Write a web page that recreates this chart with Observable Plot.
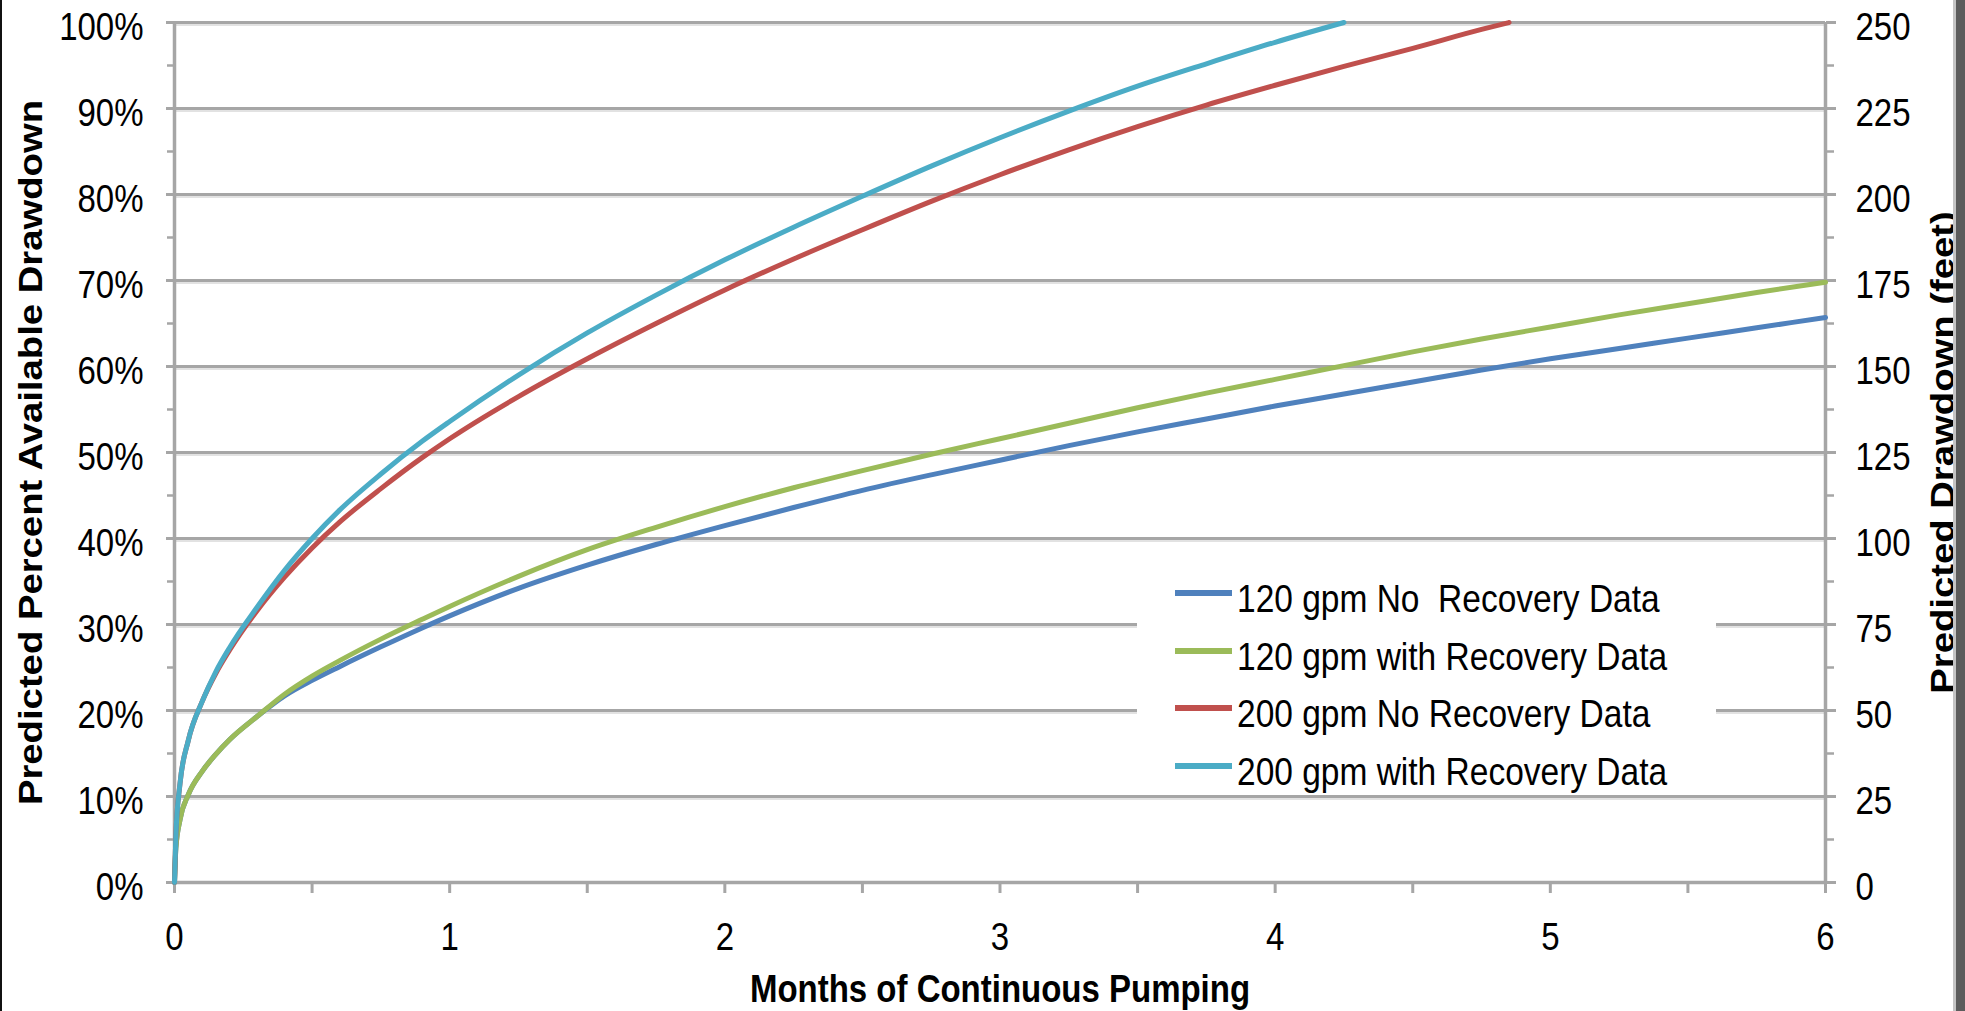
<!DOCTYPE html>
<html><head><meta charset="utf-8">
<script src="https://cdn.jsdelivr.net/npm/d3@7"></script>
<script src="https://cdn.jsdelivr.net/npm/@observablehq/plot@0.6"></script>
<style>
html,body{margin:0;padding:0;background:#fff;}
#wrap{position:relative;width:1965px;height:1011px;overflow:hidden;background:#fff;font-family:'Liberation Sans',Arial,sans-serif;}
#legend{position:absolute;left:1137px;top:548px;width:579px;height:244px;background:#fff;}
.row{position:absolute;left:0;width:579px;height:0;}
.sw{position:absolute;left:38px;width:57px;height:6px;top:-3px;}
.lab{position:absolute;left:100px;top:-11px;height:33px;line-height:33px;font-size:33.5px;white-space:pre;color:#000;transform:scaleY(1.16);transform-origin:0 50%;}
.edgeL{position:absolute;left:0;top:0;width:2px;height:1011px;background:#111;}
.edgeR{position:absolute;left:1953px;top:0;width:12px;height:1011px;background:#5c5c5c;border-left:3px solid #c4c4c4;box-sizing:border-box;}
</style></head>
<body>
<div id="wrap"></div>
<script>
// ---- data ----
const months = [0, 0.005, 0.02, 0.05, 0.1, 0.15, 0.2, 0.3, 0.4, 0.5, 0.6, 0.75, 0.9, 1.0, 1.25, 1.5, 1.75, 2.0, 2.25, 2.5, 2.75, 3.0, 3.25, 3.5, 3.75, 4.0, 4.25, 4.5, 4.75, 5.0, 5.25, 5.5, 5.75, 6.0];
const monthsRed200 = [0, 0.005, 0.02, 0.05, 0.1, 0.15, 0.2, 0.3, 0.4, 0.5, 0.6, 0.75, 0.9, 1.0, 1.25, 1.5, 1.75, 2.0, 2.25, 2.5, 2.75, 3.0, 3.25, 3.5, 3.75, 4.0, 4.25, 4.5, 4.75, 4.85];
const noRec120 = [0, 4, 7.3, 10.2, 12.9, 14.9, 16.6, 19.3, 21.7, 23.5, 25.1, 27.4, 29.6, 31.0, 34.2, 36.9, 39.3, 41.5, 43.6, 45.6, 47.4, 49.1, 50.8, 52.4, 53.9, 55.4, 56.8, 58.2, 59.6, 60.9, 62.1, 63.3, 64.5, 65.7];
const withRec120 = [0, 4, 7.3, 10.2, 12.9, 14.9, 16.6, 19.3, 21.9, 24.0, 25.8, 28.3, 30.6, 32.1, 35.6, 38.7, 41.3, 43.7, 45.9, 47.9, 49.8, 51.6, 53.4, 55.2, 56.9, 58.5, 60.1, 61.7, 63.2, 64.6, 66.0, 67.3, 68.6, 69.8];
const noRec200 = [0, 5.5, 11.5, 16.5, 21, 24.3, 27.0, 31.6, 35.5, 38.9, 41.9, 45.8, 49.4, 51.6, 56.5, 60.9, 65.0, 68.9, 72.5, 75.9, 79.2, 82.3, 85.2, 87.9, 90.4, 92.7, 94.9, 97.0, 99.2, 100];
const withRec200 = [0, 5.5, 11.5, 16.5, 21, 24.5, 27.3, 32.0, 36.3, 40.0, 43.3, 47.5, 51.3, 53.6, 59.0, 63.9, 68.3, 72.4, 76.2, 79.8, 83.3, 86.6, 89.7, 92.6, 95.2, 97.7, 100];

const seriesNames = ["120 gpm No  Recovery Data", "120 gpm with Recovery Data", "200 gpm No Recovery Data", "200 gpm with Recovery Data"];
const seriesColors = ["#4f81bd", "#9bbb59", "#c0504d", "#4bacc6"];

const pctTicks = [0, 10, 20, 30, 40, 50, 60, 70, 80, 90, 100];
const pctMinor = [5, 15, 25, 35, 45, 55, 65, 75, 85, 95];
const feetLabels = ["0", "25", "50", "75", "100", "125", "150", "175", "200", "225", "250"];
const monthTicks = [0, 0.5, 1, 1.5, 2, 2.5, 3, 3.5, 4, 4.5, 5, 5.5, 6];
const monthLabels = [0, 1, 2, 3, 4, 5, 6];

const xTitle = "Months of Continuous Pumping";
const yTitle = "Predicted Percent Available Drawdown";
const y2Title = "Predicted Drawdown (feet)";

// ---- build ----
const toRows = (vals, ms) => vals.map((v, i) => ({m: ms[i], v}));
const seriesRows = [
  toRows(noRec120, months),
  toRows(withRec120, months),
  toRows(noRec200, monthsRed200),
  toRows(withRec200, months)
];

const grey = "#a6a6a6";
const font = "'Liberation Sans', Arial, sans-serif";

const chart = Plot.plot({
  width: 1965, height: 1011,
  marginLeft: 174, marginRight: 140, marginTop: 22, marginBottom: 129,
  style: {fontFamily: font, fontSize: "33px", color: "#000", background: "transparent", overflow: "visible"},
  x: {domain: [0, 6]},
  y: {domain: [0, 100]},
  marks: [
    Plot.ruleY(pctTicks.filter(d => d > 0), {stroke: "#e2e2e2", strokeWidth: 2, dy: 2.5}),
    Plot.ruleY(pctTicks.filter(d => d > 0), {stroke: grey, strokeWidth: 3}),
    Plot.axisY(pctTicks, {anchor: "left", tickSize: 8, fill: "none", stroke: grey, strokeWidth: 3, label: null}),
    Plot.axisY(pctMinor, {anchor: "left", tickSize: 7, fill: "none", stroke: grey, strokeWidth: 2.5, label: null}),
    Plot.axisY(pctTicks, {anchor: "left", tickSize: 8, tickPadding: 23, stroke: "none", fill: "#000", tickFormat: d => d + "%", dy: 5.3, label: null}),
    Plot.axisY(pctTicks, {anchor: "right", tickSize: 10, fill: "none", stroke: grey, strokeWidth: 3, label: null}),
    Plot.axisY(pctMinor, {anchor: "right", tickSize: 8, fill: "none", stroke: grey, strokeWidth: 2.5, label: null}),
    Plot.axisY(pctTicks, {anchor: "right", tickSize: 10, tickPadding: 20, stroke: "none", fill: "#000", tickFormat: d => feetLabels[pctTicks.indexOf(d)], dy: 5.3, label: null}),
    Plot.axisX(monthTicks, {anchor: "bottom", tickSize: 11, fill: "none", stroke: grey, strokeWidth: 3, label: null}),
    Plot.axisX(monthLabels, {anchor: "bottom", tickSize: 11, tickPadding: 31.4, stroke: "none", fill: "#000", tickFormat: d => String(d), label: null}),
    Plot.ruleX([0, 6], {stroke: grey, strokeWidth: 3.5}),
    Plot.ruleY([0], {stroke: grey, strokeWidth: 3.5}),
    ...seriesRows.map((rows, k) => Plot.line(rows, {x: "m", y: "v", stroke: seriesColors[k], strokeWidth: 5, curve: "monotone-x"})),
    Plot.text([xTitle], {frameAnchor: "bottom", textAnchor: "middle", lineAnchor: "middle", dy: 107.3, fontWeight: "bold", fontSize: 33, fill: "#000"}),
    Plot.text([yTitle], {frameAnchor: "left", rotate: -90, textAnchor: "middle", lineAnchor: "middle", dx: -143.2, fontWeight: "bold", fontSize: 33, fill: "#000"}),
    Plot.text([y2Title], {frameAnchor: "right", rotate: -90, textAnchor: "middle", lineAnchor: "middle", dx: 118.3, fontWeight: "bold", fontSize: 33, fill: "#000"})
  ]
});

const wrap = document.getElementById("wrap");
wrap.appendChild(chart);

// the reference's lettering is slightly tall: stretch each label about its own centre
chart.querySelectorAll("text").forEach(t => {
  const b = t.getBBox();
  const cx = b.x + b.width / 2, cy = b.y + b.height / 2;
  const m = t.getCTM();
  const rot = m && Math.abs(m.b) > 0.5;
  const old = t.getAttribute("transform") || "";
  t.setAttribute("transform", `${old} translate(${cx},${cy}) scale(${rot ? 1.16 : 1},${rot ? 1 : 1.16}) translate(${-cx},${-cy})`);
});

// legend (inside the plot, lower right)
const legend = document.createElement("div");
legend.id = "legend";
seriesNames.forEach((name, i) => {
  const row = document.createElement("div");
  row.className = "row";
  row.style.top = (45 + i * 57.7) + "px";
  const sw = document.createElement("div");
  sw.className = "sw";
  sw.style.background = seriesColors[i];
  const lab = document.createElement("span");
  lab.className = "lab";
  lab.textContent = name;
  row.appendChild(sw);
  row.appendChild(lab);
  legend.appendChild(row);
});
wrap.appendChild(legend);

const eL = document.createElement("div"); eL.className = "edgeL"; wrap.appendChild(eL);
const eR = document.createElement("div"); eR.className = "edgeR"; wrap.appendChild(eR);
</script>
</body></html>
